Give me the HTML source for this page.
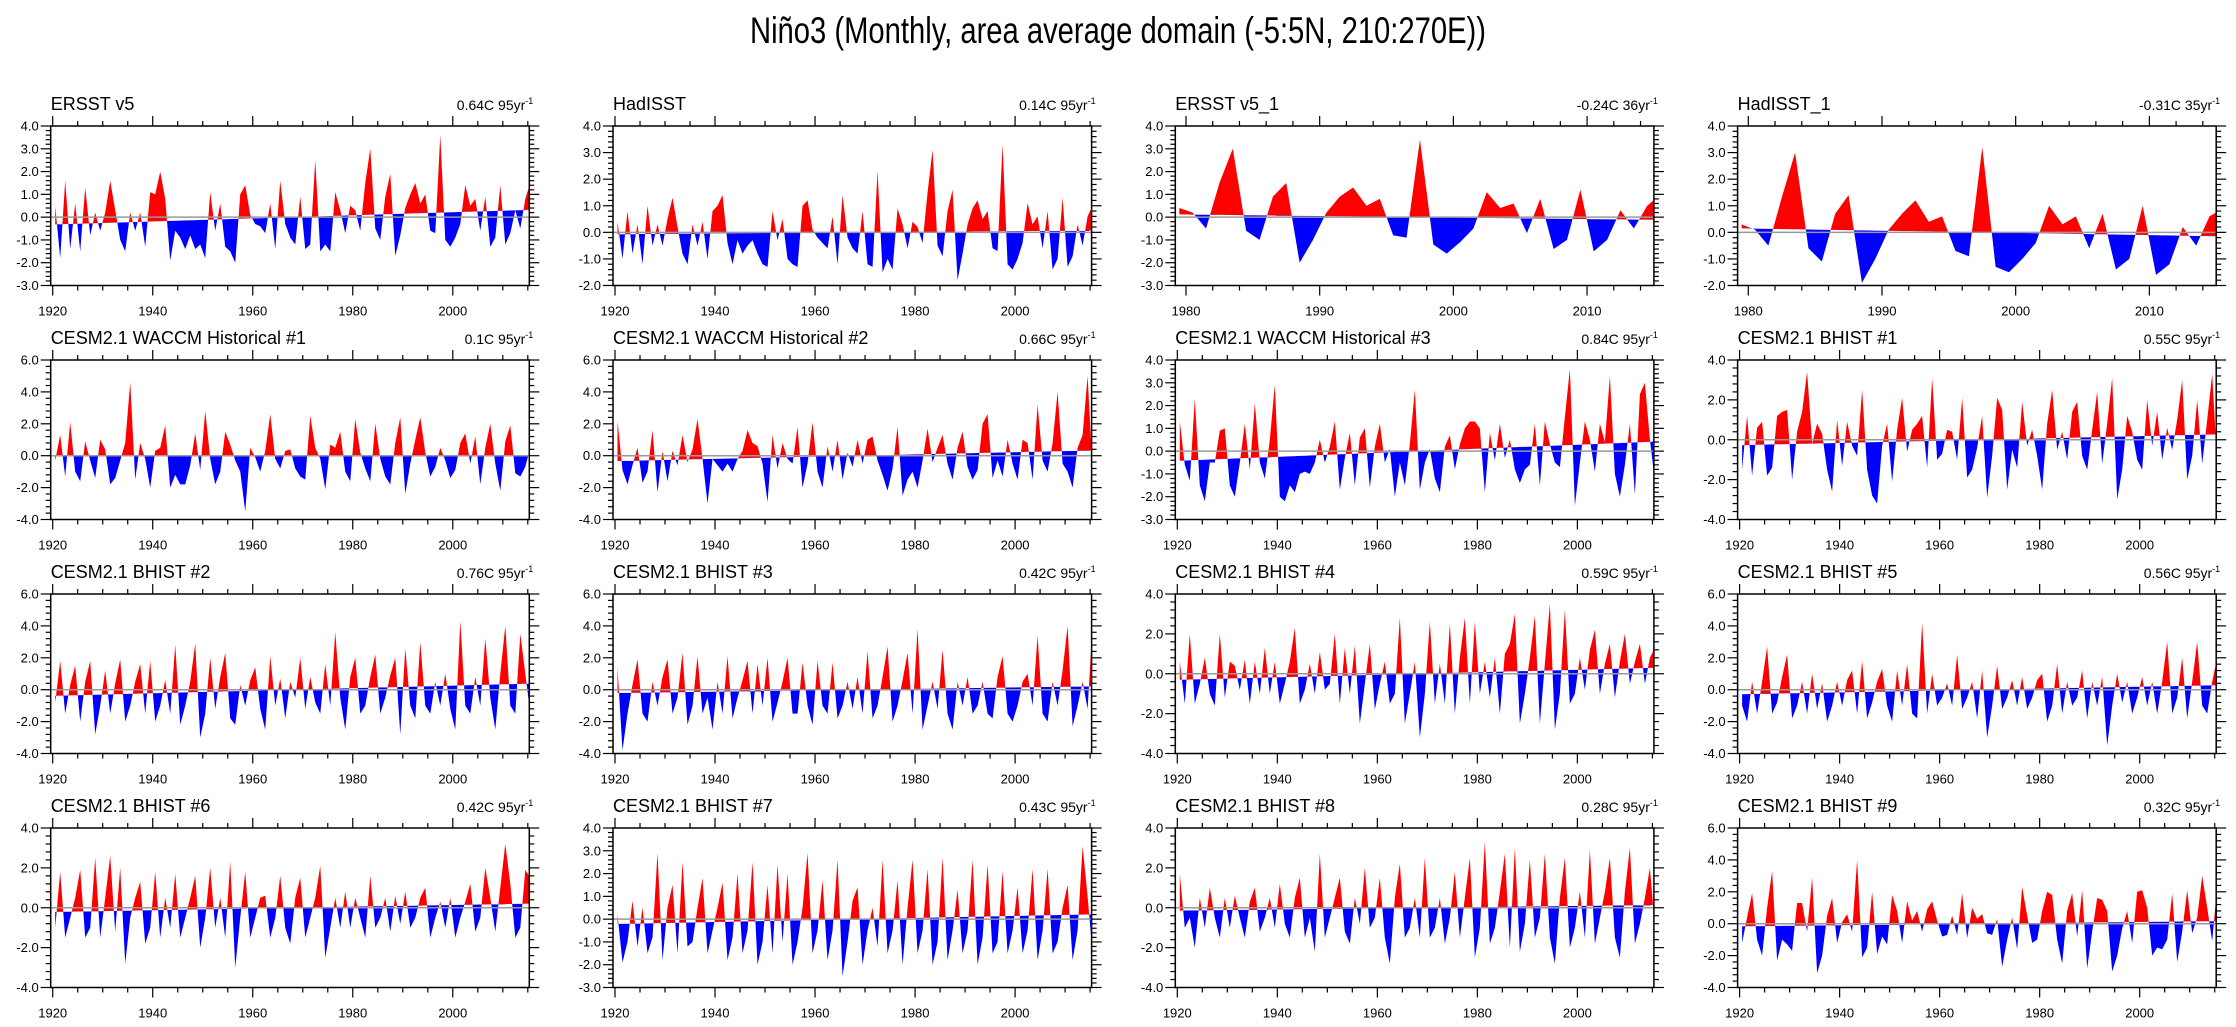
<!DOCTYPE html>
<html><head><meta charset="utf-8"><title>Niño3 Monthly</title>
<style>
html,body{margin:0;padding:0;background:#fff;}
svg{display:block;font-family:"Liberation Sans",Arial,sans-serif;}
</style></head>
<body>
<svg id="chart" width="2236" height="1027" viewBox="0 0 2236 1027" xmlns="http://www.w3.org/2000/svg">
<text x="1118" y="43" text-anchor="middle" font-size="37" textLength="736" lengthAdjust="spacingAndGlyphs" fill="#000">Niño3 (Monthly, area average domain (-5:5N, 210:270E))</text>
</svg>
<script>
// ---------- data ----------
const yearStartLong = 1920;
const yearStartShort = 1979;
const titles = ["ERSST v5","HadISST","ERSST v5_1","HadISST_1",
"CESM2.1 WACCM Historical #1","CESM2.1 WACCM Historical #2","CESM2.1 WACCM Historical #3","CESM2.1 BHIST #1",
"CESM2.1 BHIST #2","CESM2.1 BHIST #3","CESM2.1 BHIST #4","CESM2.1 BHIST #5",
"CESM2.1 BHIST #6","CESM2.1 BHIST #7","CESM2.1 BHIST #8","CESM2.1 BHIST #9"];
const trendLabels = ["0.64C 95yr","0.14C 95yr","-0.24C 36yr","-0.31C 35yr",
"0.1C 95yr","0.66C 95yr","0.84C 95yr","0.55C 95yr",
"0.76C 95yr","0.42C 95yr","0.59C 95yr","0.56C 95yr",
"0.42C 95yr","0.43C 95yr","0.28C 95yr","0.32C 95yr"];
const trendStart = [-0.32,-0.07,0.12,0.15,-0.05,-0.33,-0.42,-0.27,-0.38,-0.21,-0.3,-0.28,-0.21,-0.21,-0.14,-0.16];
const trendEnd   = [0.32,0.07,-0.12,-0.15,0.05,0.33,0.42,0.27,0.38,0.21,0.3,0.28,0.21,0.21,0.14,0.16];
const yMins = [-3,-2,-3,-2,-4,-4,-3,-4,-4,-4,-4,-4,-4,-3,-4,-4];
const yMaxs = [4,4,4,4,6,6,4,4,6,6,4,6,4,4,4,6];
const yTickSteps = [1,1,1,1,2,2,1,2,2,2,2,2,2,1,2,2];
const xTickLabelsLong = ["1920","1940","1960","1980","2000"];
const xTickLabelsShort = ["1980","1990","2000","2010"];

const v1 = [0.5,-1.8,1.6,-1.4,0.6,-1.5,1.3,-0.8,0.2,-0.6,0.2,1.6,0.3,-1.0,-1.5,0.2,-0.6,0.2,-1.3,1.1,1.0,2.0,0.8,-1.9,-0.6,-0.9,-1.4,-0.8,-1.4,-1.2,-1.8,1.1,-0.6,0.6,-1.3,-1.5,-2.0,1.0,1.4,0.1,-0.3,-0.4,-0.7,0.6,-1.4,1.6,-0.3,-0.9,-1.2,0.9,-1.4,-1.2,2.5,-1.5,-1.2,-1.5,1.1,0.3,-0.7,0.5,0.3,-0.6,1.5,3.0,-0.5,-1.0,0.9,1.9,-1.7,-0.8,0.4,1.0,1.5,0.6,1.0,-0.6,-0.7,3.6,-1.0,-1.3,-0.9,-0.3,1.4,0.5,0.8,-0.6,0.9,-1.3,-0.9,1.4,-1.2,-0.7,0.3,-0.5,0.8,1.5];
const v2 = [0.4,-1.0,0.8,-0.8,0.3,-1.2,1.0,-0.5,0.3,-0.5,0.5,1.3,0.2,-0.8,-1.2,0.3,-0.5,0.4,-1.0,0.8,1.0,1.4,-0.4,-1.2,-0.3,-0.8,-0.5,-0.3,-0.8,-1.2,-1.3,0.8,-0.3,0.5,-1.0,-1.2,-1.3,1.0,1.2,0.1,-0.2,-0.4,-0.6,0.6,-1.2,1.4,-0.2,-0.6,-0.8,0.8,-1.2,-1.3,2.3,-1.5,-1.0,-1.4,0.9,0.3,-0.6,0.4,0.2,-0.4,1.5,3.1,-0.5,-0.9,0.8,1.6,-1.8,-0.8,0.3,0.9,1.2,0.5,0.8,-0.6,-0.7,3.3,-1.2,-1.4,-1.0,-0.4,1.1,0.3,0.6,-0.6,0.8,-1.4,-1.0,1.3,-1.3,-0.9,0.3,-0.5,0.6,1.0];
const v3 = [0.4,0.2,-0.5,1.5,3.0,-0.6,-1.0,0.9,1.5,-2.0,-1.0,0.2,0.9,1.3,0.5,0.8,-0.8,-0.9,3.4,-1.2,-1.6,-1.1,-0.5,1.1,0.4,0.6,-0.7,0.8,-1.4,-1.0,1.2,-1.5,-1.0,0.3,-0.5,0.5,1.0];
const v4 = [0.3,0.1,-0.5,1.3,3.0,-0.6,-1.1,0.7,1.4,-1.9,-1.0,0.1,0.7,1.2,0.4,0.6,-0.7,-0.9,3.2,-1.3,-1.5,-1.0,-0.4,1.0,0.3,0.6,-0.6,0.7,-1.4,-1.0,1.0,-1.6,-1.2,0.2,-0.5,0.6,0.9];
const v5 = [-0.3,1.3,-1.3,2.1,-1.0,-1.6,0.9,-0.3,-1.4,1.0,0.4,-1.8,-1.4,-0.3,0.8,4.6,-1.5,0.8,-0.2,-2.0,0.3,0.5,1.9,-2.0,-1.2,-1.8,-1.8,-0.6,1.4,-0.9,2.8,-0.2,-1.8,-1.0,1.5,0.7,-0.3,-1.0,-3.5,0.5,-0.1,-1.0,0.3,2.6,-0.2,-0.8,0.3,0.4,-0.8,-1.3,-1.5,2.5,0.5,-0.2,-2.1,0.7,0.5,1.5,-1.0,-1.6,2.3,0.2,-0.8,-1.6,2.0,-0.2,-1.3,-1.8,0.8,2.4,-2.4,-0.5,1.0,2.4,0.2,-1.3,-0.7,0.5,-0.3,-1.4,-0.9,0.8,1.4,-0.5,1.2,-1.8,0.5,2.0,-0.5,-2.2,0.9,1.9,-1.1,-1.3,-0.7,0.5];
const v6 = [2.2,-0.9,-1.8,-0.6,0.5,-1.7,-1.0,1.6,-2.3,0.3,-1.6,0.3,-0.6,1.3,-0.4,0.4,2.3,-0.2,-3.0,-0.2,-0.6,-1.0,-0.5,-1.0,-0.2,0.3,1.6,0.8,0.6,-0.5,-2.9,1.3,-0.8,0.8,-0.2,-0.5,1.8,-2.0,-0.5,2.1,-1.0,-2.0,0.6,-1.0,1.0,-1.5,0.2,-0.7,1.0,-0.5,1.0,1.2,-0.3,-1.2,-2.2,-0.8,1.8,-2.5,-1.5,-1.0,-2.0,-0.3,1.7,-0.4,0.5,1.3,-0.5,-1.5,0.5,1.5,-0.7,-1.5,-0.9,2.0,2.6,-1.4,-0.3,-1.3,1.0,-0.5,-1.5,1.0,0.8,-1.5,3.2,-0.3,-1.0,0.8,4.0,-0.5,-1.0,-2.0,0.5,1.3,5.0,-1.0];
const v7 = [1.3,-0.6,-1.3,2.3,-1.5,-2.2,-0.5,-0.5,0.9,1.0,-1.5,-2.0,-0.5,1.2,-0.8,2.1,-0.5,-1.2,0.5,2.9,-2.0,-2.2,-1.5,-1.8,-1.0,-0.9,-1.0,-0.5,0.5,-0.5,0.2,1.3,-1.7,-0.3,0.8,-1.5,0.6,1.0,-1.6,0.2,1.2,-0.5,0.1,-2.0,-0.5,-1.5,0.3,2.7,-1.7,-0.5,0.1,-1.2,-1.8,0.2,0.7,-0.8,0.3,1.0,1.3,1.3,1.0,-1.8,0.8,-0.4,1.2,-0.3,0.5,-0.8,-1.4,-0.8,-0.6,1.2,-1.5,1.3,0.3,-0.5,-0.7,1.5,3.6,-2.4,-0.5,1.3,0.5,-0.9,1.2,0.4,3.3,-1.0,-2.0,-0.6,1.2,-1.9,2.5,3.0,0.5,-1.3];
const v8 = [-1.5,1.2,-1.8,0.6,0.9,-1.8,-1.4,1.2,1.4,1.5,-2.0,0.4,1.4,3.4,-0.2,0.8,0.3,-1.5,-2.6,1.0,-1.3,0.9,-0.3,-0.8,2.5,-1.5,-2.8,-3.2,-0.3,0.8,-2.1,0.5,2.1,-0.6,0.5,0.8,1.2,-1.4,3.1,-1.0,-0.7,0.5,0.4,-1.0,2.1,-1.9,-1.5,-0.4,1.2,-2.9,-0.8,2.1,1.5,-2.5,-0.5,-1.4,1.9,-0.3,0.5,-0.8,-2.5,0.8,2.5,-0.5,0.4,-1.0,1.4,1.9,-0.8,-1.5,0.5,2.4,-1.2,0.8,3.1,-3.0,-1.5,1.2,0.4,-1.0,-1.5,2.0,-0.3,1.4,-1.0,0.6,-0.5,1.0,3.0,-2.0,-0.8,2.0,-1.2,1.0,3.3,-1.3];
const v9 = [-0.8,1.8,-1.5,0.3,1.5,-2.0,0.5,1.8,-2.8,-1.0,1.2,-1.5,0.4,1.9,-2.0,-1.0,0.5,1.6,-1.5,1.8,-2.0,-1.0,0.6,-1.5,2.8,-2.2,-1.0,0.5,2.9,-3.0,-1.5,2.0,-1.2,0.8,2.3,-1.8,-2.2,0.3,-1.0,0.6,1.4,-1.2,-2.5,2.1,-1.0,0.7,-1.8,0.5,-0.5,2.0,-1.2,0.8,-0.8,-1.5,1.6,-1.0,3.6,-0.5,-2.5,0.8,2.0,-1.5,-1.0,0.8,2.2,-1.5,-0.5,0.9,2.0,-2.8,2.6,-1.0,-1.8,3.0,-1.0,-1.5,0.5,-1.0,1.0,-1.2,-2.5,4.3,-1.0,-1.5,0.8,-1.0,3.2,-0.5,-2.5,1.0,4.0,-1.0,-1.5,3.5,1.0,-1.5];
const v10 = [1.4,-3.8,-1.5,0.3,1.9,-1.5,-2.0,0.5,-1.0,0.8,1.9,-1.5,-0.5,2.3,-2.2,-1.0,2.1,-1.5,-0.5,-2.5,0.5,-1.5,2.1,-1.8,-0.5,0.6,1.8,-1.5,1.6,-1.0,2.0,-2.0,-0.8,0.5,2.0,-1.5,-1.5,1.7,-1.0,-2.2,1.8,-1.0,-1.5,1.7,-1.8,-1.0,0.5,-1.2,0.8,-1.5,2.4,-1.8,-1.0,0.8,2.7,-2.0,-1.0,0.6,2.3,-1.5,3.8,-2.5,-1.0,0.5,-1.2,2.5,-1.5,-2.5,0.5,-1.0,0.8,-1.5,-1.0,0.5,-1.5,-1.8,0.8,2.1,-1.5,-2.0,-1.0,0.5,1.0,-1.0,3.4,-1.5,-2.0,0.5,-1.0,1.2,4.0,-2.3,-1.0,0.5,-1.2,4.2];
const v11 = [0.6,-1.5,2.0,-1.5,-0.5,0.8,-1.0,-1.6,2.0,-1.2,0.6,0.4,-0.8,0.7,-1.5,0.6,-1.0,1.3,-1.0,0.6,-1.5,-0.5,0.6,2.3,-1.5,-0.8,0.5,-1.0,1.1,-0.8,-0.5,2.0,-1.5,1.3,-1.0,1.4,-2.5,-0.5,1.5,-1.8,-0.5,0.6,-1.5,-1.0,2.8,-2.5,-1.0,0.6,-3.2,-1.0,2.6,-1.5,0.5,-1.5,2.5,-2.0,0.8,2.8,-1.5,2.6,-1.0,0.6,-1.2,0.8,-2.0,1.0,1.5,3.0,-2.5,-1.0,0.8,2.9,-2.5,0.5,3.5,-2.8,-1.0,3.2,-1.5,-1.0,0.8,-0.8,1.2,2.2,-1.0,0.5,1.5,-1.2,0.6,2.0,-0.5,0.6,1.5,-0.5,0.8,1.3];
const v12 = [-1.0,-2.0,0.5,-1.5,0.5,2.7,-1.5,-0.8,0.8,2.2,-1.8,-1.0,0.5,-1.5,1.0,-1.2,0.4,-2.0,-1.0,0.5,-1.0,0.6,1.2,-1.5,1.8,-1.8,-0.8,0.5,1.3,-1.0,-2.0,1.2,-1.0,1.6,-1.5,-1.8,4.2,-1.5,1.0,-1.0,-0.5,0.4,-1.0,2.2,-1.2,-0.5,0.5,-1.8,1.2,-3.0,-1.0,1.5,-1.2,-0.5,0.6,-1.0,0.8,-1.2,-0.5,0.6,1.0,-2.0,-1.0,1.6,-1.5,0.5,-1.0,-0.5,1.2,-1.8,0.5,-1.0,0.8,-3.5,-1.0,1.0,-0.8,0.5,-1.5,-0.5,0.8,-1.0,0.5,-1.5,0.5,3.0,-1.5,-0.5,2.0,-1.8,0.5,3.0,-1.0,-1.5,0.5,2.0];
const v13 = [-1.0,1.8,-1.5,-0.5,0.5,1.9,-1.5,-1.0,2.5,-1.5,0.5,2.6,-1.2,2.0,-2.8,-0.5,0.5,1.3,-1.8,-1.0,1.8,-1.5,0.5,-1.0,1.7,-1.5,-0.5,0.5,1.6,-2.0,-0.5,2.0,-1.0,0.5,-1.5,2.3,-3.0,-0.5,1.8,-1.5,-0.5,0.5,0.6,-1.5,-0.5,1.6,-1.0,-1.8,0.5,1.5,-1.5,-0.5,0.5,2.1,-2.5,-1.0,0.5,-1.0,0.8,-1.0,0.5,-0.5,-1.5,1.6,-1.0,-0.5,0.5,-1.2,0.6,-0.8,0.8,-1.0,-0.5,0.5,1.0,-1.5,-0.5,0.3,-1.0,0.5,-1.5,-0.5,0.3,1.2,-1.2,-0.5,2.0,0.5,-1.2,1.0,3.2,1.2,-1.5,-1.0,1.9,1.5];
const v14 = [0.2,-1.9,-1.0,0.8,-1.2,0.5,-1.5,-0.8,2.9,-1.8,0.5,1.5,-1.5,2.5,-1.2,-1.0,0.5,1.8,-1.5,-0.5,0.5,1.6,-1.8,-0.8,2.0,-1.5,-0.5,2.5,-2.0,-1.0,1.5,-1.5,2.4,-1.0,2.0,-2.0,-1.0,0.5,2.9,-1.5,-0.5,1.7,-1.8,-0.5,2.6,-2.5,-1.0,0.8,1.4,-2.0,-0.5,0.5,-1.2,2.6,-1.5,-0.5,1.7,-2.0,0.5,2.6,-1.5,-0.5,2.2,-2.0,-1.0,2.7,-1.8,-0.5,1.3,-1.5,-0.5,2.6,-2.0,-0.8,2.4,-1.5,-1.0,2.1,-1.5,-0.5,1.4,-1.5,-0.5,2.2,-1.8,-0.5,2.2,-1.5,-1.0,0.5,1.5,-1.8,-0.5,3.2,1.0,-1.5];
const v15 = [1.7,-1.0,-0.5,-2.0,0.5,-1.0,1.0,-0.5,-1.5,0.5,-1.0,0.6,-0.5,-1.5,0.3,1.0,-1.2,-0.5,0.5,-1.0,1.2,-0.8,-1.5,0.5,1.5,-1.5,-0.5,-2.2,2.7,-1.5,-0.5,0.5,1.5,-1.2,-1.8,0.5,-0.8,2.0,-1.0,-0.5,1.5,-1.5,-2.8,0.5,2.2,-1.5,-1.0,0.5,-1.5,2.5,-1.5,-1.0,0.5,-1.8,-0.5,1.8,-1.5,0.5,2.5,-2.5,-1.0,3.3,-1.8,-1.0,0.8,2.7,-2.0,3.0,-2.2,-0.8,2.4,-1.5,-0.5,2.7,-1.5,-2.8,0.5,2.5,-2.0,-1.0,0.8,-1.5,2.9,-1.8,-0.5,0.8,2.5,-1.5,-2.5,0.8,3.0,-1.8,-0.8,0.5,2.0,-1.0];
const v16 = [-1.2,0.4,1.9,-1.0,-2.0,1.0,3.3,-2.3,-1.0,-1.3,-1.7,1.3,1.3,-0.5,2.9,-3.1,-2.0,0.5,1.6,-1.2,0.1,0.6,-0.5,4.0,-2.1,-1.5,2.0,-1.9,-0.8,-1.3,1.8,0.8,-1.2,1.4,0.2,0.8,-0.5,0.9,1.4,0.2,-0.8,-0.7,0.5,-0.7,1.9,-0.9,1.0,0.3,0.6,-0.6,-0.7,0.3,-2.7,-1.0,0.4,-1.6,2.3,0.5,-1.2,-1.0,0.8,2.0,1.8,-1.0,-2.5,0.8,1.9,-0.8,2.1,-2.8,-0.5,1.6,1.5,0.8,-3.0,-2.0,-0.3,0.8,-1.2,2.0,2.1,1.0,-2.0,-1.5,-1.6,-1.0,1.9,-2.4,-0.5,2.1,-0.6,0.4,3.0,1.0,-1.1,2.4];
const series = [v1,v2,v3,v4,v5,v6,v7,v8,v9,v10,v11,v12,v13,v14,v15,v16];

// ---------- layout ----------
const NS = "http://www.w3.org/2000/svg";
const svg = document.getElementById("chart");
const colLeft = [50.7, 613, 1175.3, 1737.6];
const rowTop = [126, 360, 594, 828];
const PW = 478.6, PH = 159.5;

function mk(tag, attrs, parent) {
  const e = document.createElementNS(NS, tag);
  for (const k in attrs) e.setAttribute(k, attrs[k]);
  (parent || svg).appendChild(e);
  return e;
}
function fmt(v) { return v.toFixed(1); }

const defs = mk("defs", {});

for (let p = 0; p < 16; p++) {
  const L = colLeft[p % 4], T = rowTop[Math.floor(p / 4)], R = L + PW, B = T + PH;
  const short = (p === 2 || p === 3);
  const x0 = short ? 1979.2 : 1919.6, x1 = short ? 2015.0 : 2015.3;
  const ys = short ? yearStartShort : yearStartLong;
  const vals = series[p];
  const ymin = yMins[p], ymax = yMaxs[p];
  const X = t => L + (t - x0) / (x1 - x0) * PW;
  const Y = v => T + (ymax - v) / (ymax - ymin) * PH;
  const tFirst = ys + 0.5, tLast = ys + vals.length - 0.5;
  const tr = t => trendStart[p] + (trendEnd[p] - trendStart[p]) * (t - tFirst) / (tLast - tFirst);

  const g = mk("g", {});
  
  

  const cpA = mk("clipPath", {id: "ca" + p}, defs);
  mk("polygon", {points: `${L},${T} ${R},${T} ${R},${Y(tr(x1))} ${L},${Y(tr(x0))}`}, cpA);
  const cpB = mk("clipPath", {id: "cb" + p}, defs);
  mk("polygon", {points: `${L},${Y(tr(x0))} ${R},${Y(tr(x1))} ${R},${B} ${L},${B}`}, cpB);

  let d = `M${X(tFirst)},${Y(tr(tFirst))}`;
  for (let i = 0; i < vals.length; i++) d += ` L${X(ys + i + 0.5).toFixed(2)},${Y(vals[i]).toFixed(2)}`;
  d += ` L${X(tLast)},${Y(tr(tLast))} Z`;

  const red = mk("path", {d: d, fill: "#ff0000", "clip-path": `url(#ca${p})`}, g);
  
  
  const blue = mk("path", {d: d, fill: "#0000ff", "clip-path": `url(#cb${p})`}, g);
  
  

  const zl = mk("line", {x1: L, x2: R, y1: Y(0), y2: Y(0), stroke: "#999", "stroke-width": 1.5}, g);
  
  

  const fr = mk("rect", {x: L, y: T, width: PW, height: PH, fill: "none", stroke: "#000", "stroke-width": 1.5}, g);
  
  

  const step = yTickSteps[p];
  const minor = step / 5;
  for (let k = 0; k <= Math.round((ymax - ymin) / minor); k++) {
    const v = ymin + k * minor;
    const isMaj = Math.abs(v / step - Math.round(v / step)) < 1e-6;
    const len = isMaj ? 10 : 5;
    const yy = Y(v);
    mk("line", {x1: L - len, x2: L, y1: yy, y2: yy, stroke: "#000", "stroke-width": 1.2}, g);
    mk("line", {x1: R, x2: R + len, y1: yy, y2: yy, stroke: "#000", "stroke-width": 1.2}, g);
    if (isMaj) {
      const tl = mk("text", {x: L - 12, y: yy + 4.5, "text-anchor": "end", "font-size": 13}, g);
      tl.textContent = fmt(v);
      
      
    }
  }
  const labels = short ? xTickLabelsShort : xTickLabelsLong;
  const majStep = short ? 10 : 20, minStep = short ? 2 : 5;
  const tStart = short ? 1980 : 1920;
  for (let t = tStart; t <= x1; t += minStep) {
    const isMaj = (t - tStart) % majStep === 0;
    const len = isMaj ? 10 : 5;
    const xx = X(t);
    mk("line", {x1: xx, x2: xx, y1: B, y2: B + len, stroke: "#000", "stroke-width": 1.2}, g);
    mk("line", {x1: xx, x2: xx, y1: T - len, y2: T, stroke: "#000", "stroke-width": 1.2}, g);
  }
  for (let i = 0; i < labels.length; i++) {
    const xl = mk("text", {x: X(+labels[i]), y: B + 30, "text-anchor": "middle", "font-size": 13}, g);
    xl.textContent = labels[i];
    
    
  }
  const tt = mk("text", {x: L, y: T - 16, "font-size": 18}, g);
  tt.textContent = titles[p];
  
  
  const trl = mk("text", {x: R + 4, y: T - 16, "text-anchor": "end", "font-size": 14}, g);
  
  
  const s1 = mk("tspan", {}, trl);
  s1.textContent = trendLabels[p];
  const s2 = mk("tspan", {dy: -6, "font-size": 9}, trl);
  s2.textContent = "-1";
}
</script>
</body></html>
